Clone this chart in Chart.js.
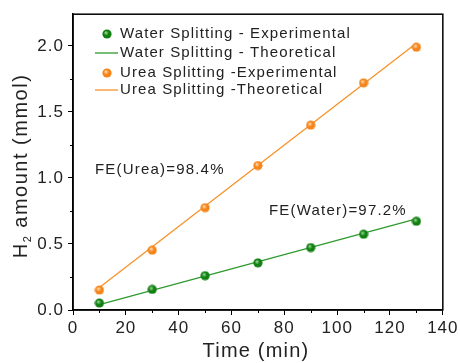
<!DOCTYPE html>
<html>
<head>
<meta charset="utf-8">
<script src="https://cdn.jsdelivr.net/npm/chart.js@4"></script>
<style>
  html, body { margin: 0; padding: 0; background: #fff; }
  #wrap { width: 460px; height: 363px; position: relative; }
</style>
</head>
<body>
<div id="wrap"><canvas id="myChart"></canvas></div>
<script>
// data
const times = [10, 30, 50, 70, 90, 110, 130];
const waterExp = [0.053, 0.156, 0.26, 0.357, 0.473, 0.574, 0.672];
const ureaExp = [0.151, 0.453, 0.775, 1.094, 1.40, 1.72, 1.99];
const theoX = [10, 130];
const waterTheo = [0.04, 0.69];
const ureaTheo = [0.17, 2.02];
const seriesNames = ['Water Splitting - Experimental', 'Water Splitting - Theoretical',
                     'Urea Splitting -Experimental', 'Urea Splitting -Theoretical'];
const xTicks = [0, 20, 40, 60, 80, 100, 120, 140];
const yTicks = [0.0, 0.5, 1.0, 1.5, 2.0];
const notes = [
  {text: 'FE(Urea)=98.4%', x: 8.3, y: 1.06},
  {text: 'FE(Water)=97.2%', x: 74.2, y: 0.754}
];
const xTitle = 'Time (min)';
const yTitle = ['H', '2', ' amount (mmol)'];

const GREEN_L = '#2e9a2e';
const ORANGE_L = '#f7922a';
const FONT = '"Liberation Sans", Arial, sans-serif';

function ball(col, hi) {
  let c = document.createElement('canvas');
  c.width = 10; c.height = 10;
  let g = c.getContext('2d');
  let gr = g.createRadialGradient(3.8, 3.6, 0.5, 5, 5, 5);
  gr.addColorStop(0, hi);
  gr.addColorStop(0.45, col);
  gr.addColorStop(1, col);
  g.fillStyle = gr;
  g.beginPath(); g.arc(5, 5, 4.6, 0, Math.PI * 2); g.fill();
  return c;
}
const greenBall = ball('#108010', '#8fd08f');
const orangeBall = ball('#f5841a', '#ffd7a8');

function pts(xs, ys) {
  let out = [];
  for (let i = 0; i < xs.length; i++) out.push({x: xs[i], y: ys[i]});
  return out;
}

const framePlugin = {
  id: 'frame',
  beforeDraw(chart) {
    chart.ctx.letterSpacing = '1px';
  },
  afterDraw(chart) {
    const ctx = chart.ctx, a = chart.chartArea;
    const xs = chart.scales.x, ys = chart.scales.y;
    ctx.save();
    ctx.strokeStyle = '#000';
    ctx.lineWidth = 1.5;
    ctx.strokeRect(a.left, a.top, a.right - a.left, a.bottom - a.top);
    // minor ticks
    ctx.lineWidth = 1;
    ctx.beginPath();
    for (let v = 10; v < 140; v += 20) {
      let px = Math.round(xs.getPixelForValue(v)) + 0.5;
      ctx.moveTo(px, a.bottom); ctx.lineTo(px, a.bottom + 3);
    }
    for (let v = 0.25; v < 2.25; v += 0.5) {
      let py = Math.round(ys.getPixelForValue(v)) + 0.5;
      ctx.moveTo(a.left, py); ctx.lineTo(a.left - 3, py);
    }
    ctx.stroke();

    // legend
    const ds = chart.data.datasets;
    const rows = [34, 53, 73, 90];
    ctx.font = '15px ' + FONT;
    ctx.letterSpacing = '1.1px';
    ctx.textBaseline = 'middle';
    ctx.textAlign = 'left';
    for (let i = 0; i < 4; i++) {
      let y = rows[i];
      if (i % 2 === 0) {
        ctx.drawImage(ds[i].pointStyle, 102, y - 5);
      } else {
        ctx.strokeStyle = ds[i].borderColor;
        ctx.lineWidth = 1.3;
        ctx.beginPath(); ctx.moveTo(95, y); ctx.lineTo(118, y); ctx.stroke();
      }
      ctx.fillStyle = '#222';
      ctx.fillText(ds[i].label, 120, y);
    }
    // annotations
    ctx.font = '15px ' + FONT;
    ctx.letterSpacing = '1.2px';
    for (const n of notes) {
      ctx.fillText(n.text, xs.getPixelForValue(n.x), ys.getPixelForValue(n.y));
    }
    // axis titles
    ctx.font = '20px ' + FONT;
    ctx.letterSpacing = '1.2px';
    ctx.textBaseline = 'alphabetic';
    ctx.textAlign = 'center';
    ctx.fillText(xTitle, 256, 357);

    ctx.translate(27, 166);
    ctx.rotate(-Math.PI / 2);
    ctx.textAlign = 'left';
    ctx.letterSpacing = '1.5px';
    ctx.font = '20px ' + FONT;
    const w0 = ctx.measureText(yTitle[0]).width;
    ctx.font = '11px ' + FONT;
    const w1 = ctx.measureText(yTitle[1]).width;
    ctx.font = '20px ' + FONT;
    const w2 = ctx.measureText(yTitle[2]).width;
    let x0 = -(w0 + w1 + w2) / 2;
    ctx.fillText(yTitle[0], x0, 0);
    ctx.font = '11px ' + FONT;
    ctx.fillText(yTitle[1], x0 + w0, 4);
    ctx.font = '20px ' + FONT;
    ctx.fillText(yTitle[2], x0 + w0 + w1, 0);
    ctx.restore();
  }
};

const ctx = document.getElementById('myChart').getContext('2d');
new Chart(ctx, {
  type: 'scatter',
  data: {
    datasets: [
      {label: seriesNames[0], data: pts(times, waterExp), pointStyle: greenBall, showLine: false, order: 0},
      {label: seriesNames[1], data: pts(theoX, waterTheo), showLine: true, borderColor: GREEN_L, borderWidth: 1.3, pointRadius: 0, order: 1},
      {label: seriesNames[2], data: pts(times, ureaExp), pointStyle: orangeBall, showLine: false, order: 0},
      {label: seriesNames[3], data: pts(theoX, ureaTheo), showLine: true, borderColor: ORANGE_L, borderWidth: 1.3, pointRadius: 0, order: 1}
    ]
  },
  options: {
    responsive: true,
    maintainAspectRatio: false,
    animation: false,
    layout: {padding: {left: 0, right: 17, top: 13, bottom: 0}},
    plugins: {legend: {display: false}, tooltip: {enabled: false}},
    scales: {
      x: {
        type: 'linear', min: 0, max: 140,
        afterBuildTicks(s) { s.ticks = xTicks.map(v => ({value: v})); },
        afterFit(s) { s.height = 53; },
        grid: {display: true, drawOnChartArea: false, drawTicks: true, tickLength: 5, color: '#000', tickColor: '#000'},
        border: {display: true, color: '#000', width: 1.5},
        ticks: {color: '#222', font: {family: FONT, size: 17}, padding: 3, maxRotation: 0},
        title: {display: false}
      },
      y: {
        type: 'linear', min: 0, max: 2.24,
        afterBuildTicks(s) { s.ticks = yTicks.map(v => ({value: v})); },
        afterFit(s) { s.width = 73; },
        grid: {display: true, drawOnChartArea: false, drawTicks: true, tickLength: 5, color: '#000', tickColor: '#000'},
        border: {display: true, color: '#000', width: 1.5},
        ticks: {color: '#222', font: {family: FONT, size: 17}, padding: 4, callback: v => v.toFixed(1)},
        title: {display: false}
      }
    }
  },
  plugins: [framePlugin]
});
</script>
</body>
</html>
